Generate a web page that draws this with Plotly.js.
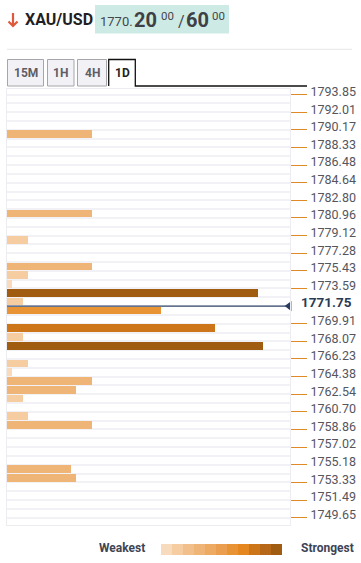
<!DOCTYPE html>
<html><head><meta charset="utf-8">
<script src="https://cdn.plot.ly/plotly-3.0.1.min.js"></script>
<style>html,body{margin:0;padding:0;background:#fff;}#chart{width:361px;height:563px;}</style>
</head><body><div id="chart"></div>
<script>
// ---- data ----
const levels = [1789.71,1781.42,1778.66,1775.89,1774.97,1774.05,1773.13,1772.21,1771.29,1769.45,1768.53,1767.61,1765.77,1764.84,1763.92,1763.00,1762.08,1760.24,1759.32,1754.72,1753.79];
const strength = [30.0,30.0,7.4,30.0,7.4,1.8,88.7,5.7,54.4,73.5,5.7,90.5,7.4,1.8,30.0,24.4,5.7,7.4,30.0,22.6,24.4];
const shade = [4,4,2,4,2,1,11,2,7,9,2,11,2,1,4,4,2,2,4,4,4];
const priceTicks = [1793.85,1792.01,1790.17,1788.33,1786.48,1784.64,1782.80,1780.96,1779.12,1777.28,1775.43,1773.59,1769.91,1768.07,1766.23,1764.38,1762.54,1760.70,1758.86,1757.02,1755.18,1753.33,1751.49,1749.65];
const currentPrice = 1771.75;
const palette = ['#F8DBBD','#F5CDA0','#F1C08A','#EEB577','#ECAA62','#EA9E4E','#E89334','#E4871E','#CD7619','#B66818','#A05D12'];
const tabs = ['15M','1H','4H','1D'];
const symbol = 'XAU/USD';
const quote = {big:'1770.', bid:'20', bidSub:'00', ask:'60', askSub:'00'};

// ---- layout helpers ----
const W = 361, H = 563, ML = 7, MR = 71, MT = 89, MB = 38;
const PW = W - ML - MR, PH = H - MT - MB;
const X = px => (px - ML) / PW;
const Y = py => (H - MB - py) / PH;
const rowStep = (priceTicks[0] - priceTicks[priceTicks.length-1]) / ((priceTicks.length) * 2);
const seps = [];
for (let k = 0; k <= 48; k++) seps.push(+(priceTicks[0] - k * rowStep).toFixed(3));

const shapes = [];
const ann = [];
function rect(x0,y0,x1,y1,fill,lc,lw){shapes.push({type:'rect',xref:'paper',yref:'paper',x0:X(x0),x1:X(x1),y0:Y(y0),y1:Y(y1),fillcolor:fill,line:{color:lc||'rgba(0,0,0,0)',width:lw||0},layer:'above'});}
function seg(x0,y0,x1,y1,c,w){shapes.push({type:'line',xref:'paper',yref:'paper',x0:X(x0),x1:X(x1),y0:Y(y0),y1:Y(y1),line:{color:c,width:w},layer:'above'});}
function txt(x,y,t,size,color,bold,anchor){ann.push({xref:'paper',yref:'paper',x:X(x),y:Y(y),text:bold?'<b>'+t+'</b>':t,showarrow:false,xanchor:anchor||'left',yanchor:'middle',font:{family:'Roboto',size:size,color:color}});}

// header
shapes.push({type:'path',xref:'paper',yref:'paper',path:`M ${X(13)} ${Y(13)} L ${X(13)} ${Y(26)} M ${X(8.5)} ${Y(21.5)} L ${X(13)} ${Y(26)} L ${X(17.5)} ${Y(21.5)}`,line:{color:'#E0583C',width:2.2}});
txt(23,19.5,symbol,16,'#1f1f24',true);
rect(95,5,229,33.5,'#CDEBE4');
txt(98,21,quote.big,13,'#45454d',false);
txt(132,20,quote.bid,20,'#3f3f46',true);
txt(159,16.5,quote.bidSub,11.5,'#45454d',false);
txt(176,22,'/',16,'#45454d',false);
txt(184,20,quote.ask,20,'#3f3f46',true);
txt(210,16.5,quote.askSub,11.5,'#45454d',false);
seg(7,49.3,352,49.3,'#E6E6E8',1);

// tabs
const tabX = [[7.5,43.5],[47.5,74],[77.5,106.5],[108.7,135.3]];
tabs.forEach((t,i)=>{
  const [a,b] = tabX[i];
  if (i < 3) { rect(a,59.5,b,86,'#F2F2F6','#A6A6AA',1); txt((a+b)/2,72.5,t,12,'#5E5E66',true,'center'); }
  else {
    rect(a,59.5,b,86,'#FFFFFF');
    shapes.push({type:'path',xref:'paper',yref:'paper',path:`M ${X(a)} ${Y(86)} L ${X(a)} ${Y(59.5)} L ${X(b)} ${Y(59.5)} L ${X(b)} ${Y(86)} L ${X(307)} ${Y(86)}`,line:{color:'#111',width:1.3}});
    txt((a+b)/2,72.5,t,12,'#1f1f24',true,'center');
  }
});

// current price line & label
shapes.push({type:'line',xref:'x',yref:'y',x0:0,x1:99.6,y0:currentPrice,y1:currentPrice,line:{color:'#34486A',width:1.4},layer:'between'});
ann.push({xref:'paper',yref:'y',x:1,xshift:9,yshift:4,y:currentPrice,xanchor:'left',yanchor:'middle',showarrow:false,text:'<b>'+currentPrice.toFixed(2)+'</b>',font:{family:'Roboto',size:13.5,color:'#2B3A55'}});

// legend
const lx0 = 161, lw = 11;
palette.forEach((c,i)=>rect(lx0+i*lw,544,lx0+(i+1)*lw,555,c));
txt(97,548,'Weakest',12,'#3E4454',true);
txt(299,548,'Strongest',12,'#3E4454',true);

const traces = [
  {type:'bar',orientation:'h',x:strength,y:levels,width:rowStep*0.86,
   marker:{color:shade.map(s=>palette[s-1]),line:{width:0}},hoverinfo:'skip'},
  {type:'scatter',mode:'markers',x:[99.7],y:[currentPrice],cliponaxis:false,
   marker:{symbol:'triangle-left',size:9,color:'#2B3D5E'},hoverinfo:'skip'}
];

const layout = {
  width:W,height:H,margin:{l:ML,r:MR,t:MT,b:MB,pad:0},
  paper_bgcolor:'#fff',plot_bgcolor:'#fff',showlegend:false,
  font:{family:'Roboto'},
  xaxis:{range:[0,100],showticklabels:false,ticks:'',showgrid:false,zeroline:false,
         showline:true,mirror:true,linecolor:'#EDEDF1',linewidth:1,fixedrange:true},
  yaxis:{range:[1748.88,1794.43],side:'right',tickmode:'array',tickvals:priceTicks,
         ticktext:priceTicks.map(v=>v.toFixed(2)),ticks:'outside',ticklen:16,tickwidth:1,tickcolor:'#E08A25',
         tickfont:{family:'Roboto',size:12.5,color:'#55555E'},ticklabelstandoff:1,ticklabelshift:-3,
         showgrid:true,gridcolor:'#F1F1F6',gridwidth:2,zeroline:false,
         showline:true,mirror:true,linecolor:'#EDEDF1',linewidth:1,
         minor:{tickmode:'array',tickvals:seps,showgrid:true,gridcolor:'#F1F1F6',gridwidth:2,ticks:'',ticklen:0},fixedrange:true},
  shapes:shapes,annotations:ann,bargap:0
};
Plotly.newPlot('chart',traces,layout,{displayModeBar:false,staticPlot:true});
</script></body></html>
